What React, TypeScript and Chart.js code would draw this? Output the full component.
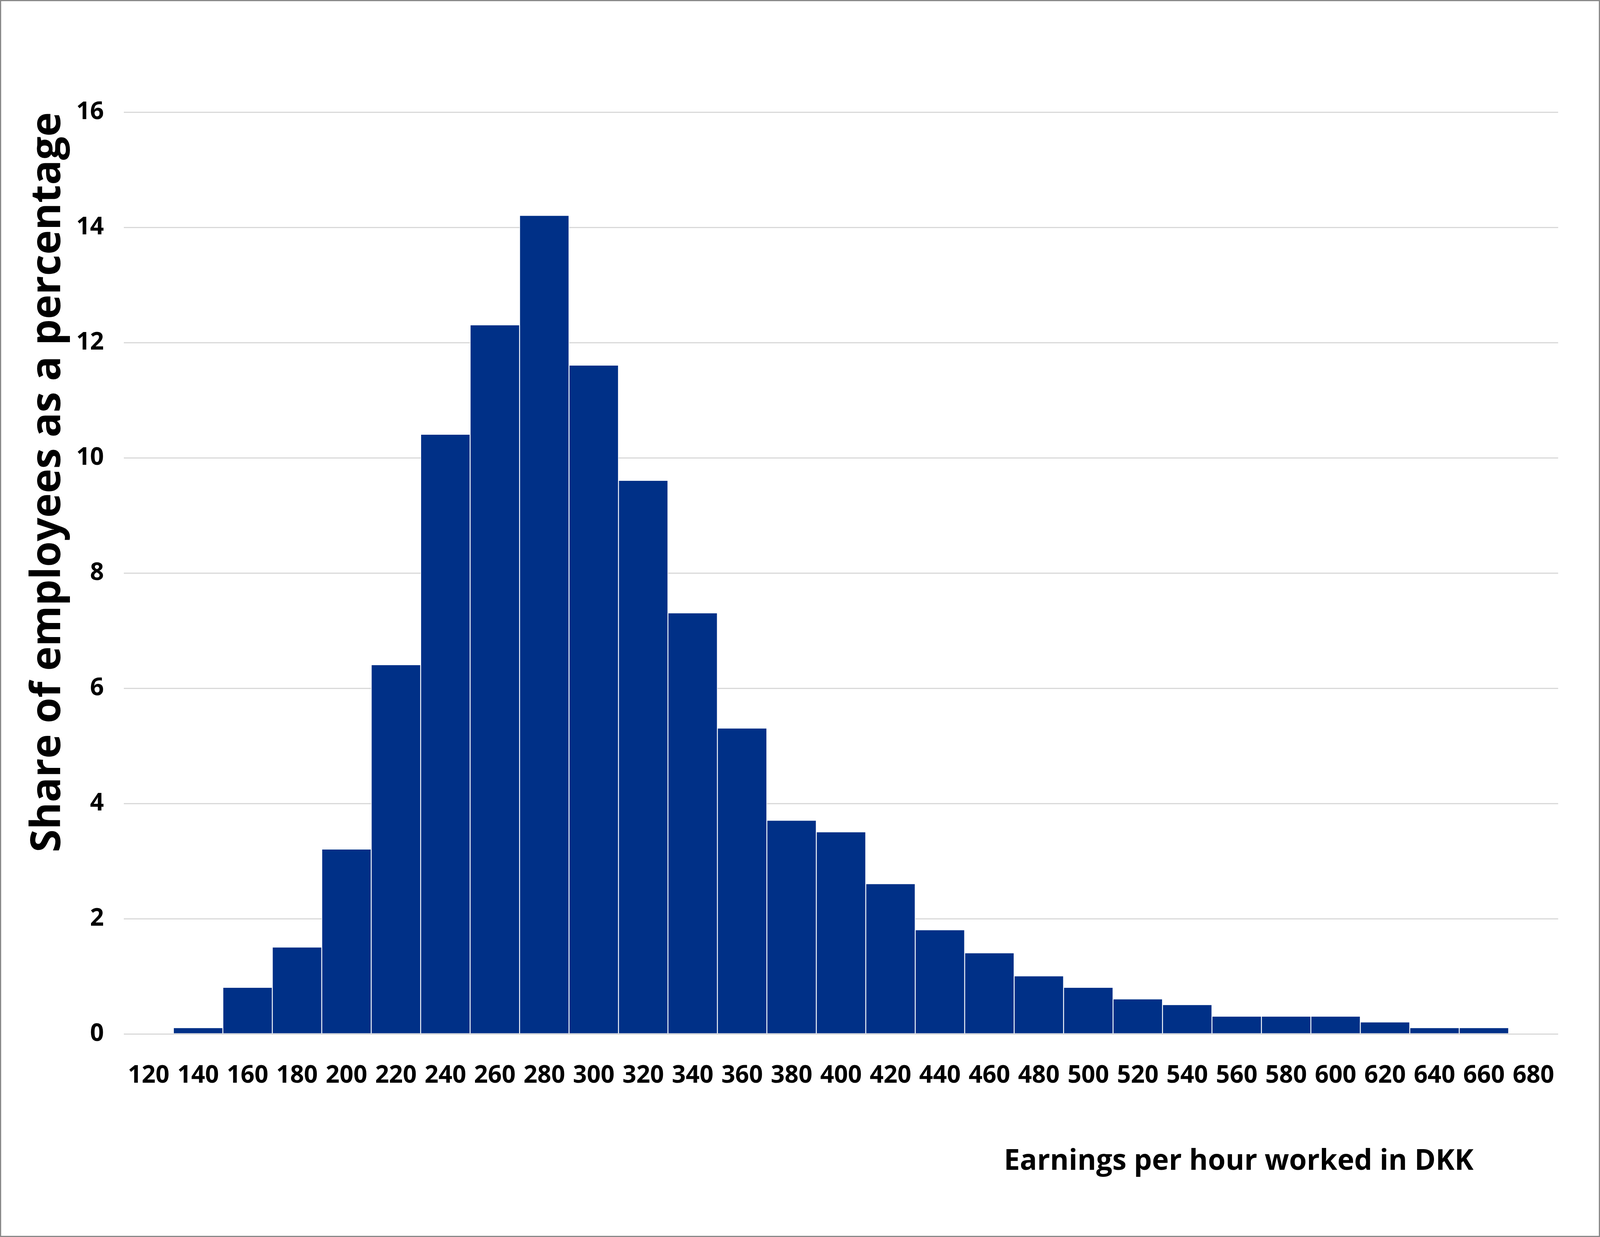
import React, { useEffect, useRef } from "react";
import { Chart, registerables } from "chart.js";

Chart.register(...registerables);

// hourly earnings bins (DKK), one bar per bin
const earningsBins = [
  "120", "140", "160", "180", "200", "220", "240", "260", "280", "300",
  "320", "340", "360", "380", "400", "420", "440", "460", "480", "500",
  "520", "540", "560", "580", "600", "620", "640", "660", "680",
];

// share of employees in each bin, percent
const sharePct = [
  0, 0.1, 0.8, 1.5, 3.2, 6.4, 10.4, 12.3, 14.2, 11.6,
  9.6, 7.3, 5.3, 3.7, 3.5, 2.6, 1.8, 1.4, 1.0, 0.8,
  0.6, 0.5, 0.3, 0.3, 0.3, 0.2, 0.1, 0.1, 0,
];

const yMax = 16;
const yStep = 2;

const yTitle = "Share of employees as a percentage";
const xTitle = "Earnings per hour worked in DKK";

const FONT = "'Open Sans', Lato, sans-serif";
const BAR_BLUE = "#003087";

// the layout was measured on a 6804x3167 frame; everything is scaled to the real window
const REF_W = 6804;
const REF_H = 3167;

const EarningsHistogram = () => {
  const canvasRef = useRef<HTMLCanvasElement | null>(null);

  useEffect(() => {
    if (!canvasRef.current) return;
    const ctx = canvasRef.current.getContext("2d");
    if (!ctx) return;

    const sx = window.innerWidth / REF_W;
    const sy = window.innerHeight / REF_H;
    const fs = Math.sqrt(sx * sy);
    const tickSize = Math.round(80 * fs);

    // x axis title sits right-aligned but short of the plot's right edge
    const xTitlePlugin = {
      id: "xTitlePlugin",
      afterDraw(c: any) {
        const { ctx: g, chartArea } = c;
        g.save();
        g.font = `bold ${Math.round(94 * fs)}px ${FONT}`;
        g.fillStyle = "#000000";
        g.textAlign = "right";
        g.textBaseline = "alphabetic";
        g.fillText(xTitle, chartArea.right - 360 * sx, chartArea.bottom + 348 * sy);
        g.restore();
      },
    };

    const chart = new Chart(ctx, {
      type: "bar",
      data: {
        labels: earningsBins,
        datasets: [
          {
            data: sharePct,
            backgroundColor: BAR_BLUE,
            borderColor: "#ffffff",
            borderWidth: { top: 0, bottom: 0, left: 1.5, right: 1.5 },
            borderSkipped: false,
            barPercentage: 1,
            categoryPercentage: 1,
          },
        ],
      },
      options: {
        animation: false,
        responsive: true,
        maintainAspectRatio: false,
        layout: { padding: { left: 0, right: 173 * sx, top: 284 * sy, bottom: 0 } },
        plugins: {
          legend: { display: false },
          tooltip: { enabled: false },
        },
        scales: {
          x: {
            grid: { display: false, drawTicks: false },
            border: { display: false },
            ticks: {
              color: "#000000",
              font: { family: FONT, size: tickSize, weight: "bold" },
              padding: 109 * sy - tickSize * 0.62,
              maxRotation: 0,
              autoSkip: false,
            },
            afterFit: (scale: any) => {
              scale.height = 517 * sy;
            },
          },
          y: {
            min: 0,
            max: yMax,
            grid: { color: "#d9d9d9", lineWidth: 3, drawTicks: false },
            border: { display: false },
            ticks: {
              stepSize: yStep,
              color: "#000000",
              font: { family: FONT, size: tickSize, weight: "bold" },
              padding: 85 * sx,
            },
            title: {
              display: true,
              text: yTitle,
              align: "end",
              color: "#000000",
              font: { family: FONT, size: Math.round(106 * sy), weight: "bold" },
              padding: { top: 205 * sx - 66 * sy, bottom: 0 },
            },
            afterFit: (scale: any) => {
              scale.width = 522 * sx;
            },
          },
        },
      },
      plugins: [xTitlePlugin],
    });

    return () => {
      chart.destroy();
    };
  }, []);

  return (
    <div
      style={{
        position: "fixed",
        left: 0,
        top: 0,
        width: "100vw",
        height: "100vh",
        boxSizing: "border-box",
        border: "3px solid #8a8a8a",
        background: "#ffffff",
      }}
    >
      <div style={{ position: "relative", width: "100%", height: "100%" }}>
        <canvas ref={canvasRef} />
      </div>
    </div>
  );
};

export default function App() {
  return <EarningsHistogram />;
}
